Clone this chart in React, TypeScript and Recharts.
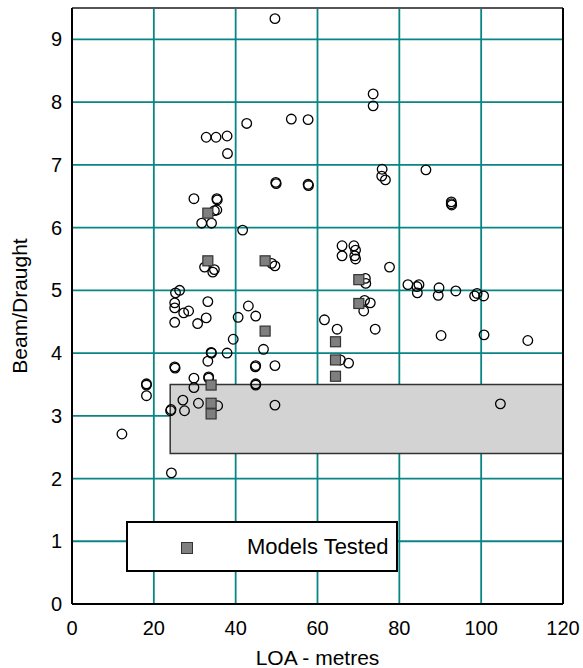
import React from "react";
import {
  CartesianGrid,
  Legend,
  ReferenceArea,
  ReferenceLine,
  Scatter,
  ScatterChart,
  XAxis,
  YAxis,
} from "recharts";

const FONT = '"Liberation Sans", Arial, Helvetica, sans-serif';
const GRID = "#0a8585";

// Hull survey: length overall (m) vs beam/draught ratio
const vesselLoa = [
  49.6, 42.7, 53.6, 57.7, 32.8, 35.2, 37.9, 38.0, 73.6, 73.6,
  49.8, 49.9, 57.7, 57.8, 75.8, 75.7, 76.6, 86.5, 92.7, 92.7,
  92.8, 29.8, 35.4, 35.5, 34.8, 35.4, 31.7, 34.1, 41.7, 32.4,
  34.4, 34.8, 48.8, 49.6, 25.3, 26.3, 25.1, 25.1, 27.3, 28.5,
  33.2, 25.1, 30.7, 32.8, 40.6, 43.1, 44.9, 39.4, 46.8, 34.0,
  34.1, 37.9, 33.2, 25.1, 25.2, 44.9, 44.8, 49.6, 29.8, 33.4,
  33.4, 44.9, 44.9, 29.8, 18.2, 18.2, 18.2, 27.1, 30.9, 27.5,
  24.1, 24.2, 35.6, 49.6, 12.2, 24.3, 104.7, 66.0, 66.0, 68.9,
  69.3, 69.1, 69.3, 77.6, 71.7, 71.8, 71.5, 72.9, 71.3, 82.1,
  84.3, 84.8, 84.4, 89.7, 89.5, 93.8, 98.4, 99.0, 100.6, 61.7,
  64.8, 74.1, 90.2, 100.7, 111.4, 65.6, 67.6,
];
const vesselRatio = [
  9.33, 7.66, 7.73, 7.72, 7.44, 7.44, 7.46, 7.18, 8.13, 7.94,
  6.72, 6.7, 6.69, 6.67, 6.93, 6.82, 6.76, 6.92, 6.41, 6.38,
  6.36, 6.46, 6.46, 6.44, 6.27, 6.28, 6.07, 6.07, 5.96, 5.37,
  5.29, 5.33, 5.43, 5.39, 4.96, 5.0, 4.8, 4.72, 4.64, 4.67,
  4.82, 4.49, 4.47, 4.56, 4.57, 4.75, 4.59, 4.22, 4.06, 4.01,
  4.0, 4.0, 3.87, 3.78, 3.76, 3.8, 3.78, 3.8, 3.6, 3.62,
  3.6, 3.49, 3.51, 3.45, 3.49, 3.51, 3.32, 3.25, 3.2, 3.08,
  3.08, 3.1, 3.16, 3.17, 2.71, 2.09, 3.19, 5.71, 5.55, 5.71,
  5.64, 5.55, 5.5, 5.37, 5.19, 5.11, 4.84, 4.8, 4.67, 5.09,
  5.06, 5.09, 4.96, 5.04, 4.92, 4.99, 4.91, 4.95, 4.91, 4.53,
  4.38, 4.38, 4.28, 4.29, 4.2, 3.89, 3.84,
];

// Tank-tested models
const modelLoa = [33.2, 33.2, 47.2, 47.2, 34.0, 34.0, 34.0, 70.1, 70.1, 64.4, 64.4, 64.4];
const modelRatio = [6.23, 5.47, 5.47, 4.35, 3.49, 3.2, 3.03, 5.17, 4.79, 4.18, 3.89, 3.63];

const xTicks = [0, 20, 40, 60, 80, 100, 120];
const yTicks = [0, 1, 2, 3, 4, 5, 6, 7, 8, 9];

const vessels = vesselLoa.map((x, i) => ({ x, y: vesselRatio[i] }));
const models = modelLoa.map((x, i) => ({ x, y: modelRatio[i] }));

const Ring = (props: any) => (
  <circle cx={props.cx} cy={props.cy} r={4.8} fill="none" stroke="#000" strokeWidth={1.3} />
);

const Block = (props: any) => (
  <rect
    x={props.cx - 5}
    y={props.cy - 5}
    width={10}
    height={10}
    fill="#7f7f7f"
    stroke="#333"
    strokeWidth={1.2}
  />
);

const LegendBox = () => (
  <div
    style={{
      boxSizing: "border-box",
      width: "100%",
      height: "100%",
      border: "2px solid #000",
      background: "#fff",
      position: "relative",
      fontFamily: FONT,
    }}
  >
    <div
      style={{
        position: "absolute",
        left: 53,
        top: 19,
        width: 10,
        height: 10,
        background: "#7f7f7f",
        border: "1px solid #333",
      }}
    />
    <span
      style={{
        position: "absolute",
        left: 119,
        top: 11,
        fontSize: 22,
        lineHeight: "25px",
        color: "#000",
        whiteSpace: "nowrap",
      }}
    >
      Models Tested
    </span>
  </div>
);

const YTitle = ({ viewBox }: any) => {
  const cy = viewBox.y + viewBox.height / 2;
  return (
    <text
      x={27}
      y={cy}
      transform={`rotate(-90 27 ${cy})`}
      textAnchor="middle"
      fontFamily={FONT}
      fontSize={21}
      fill="#000"
    >
      Beam/Draught
    </text>
  );
};

const XTitle = ({ viewBox }: any) => (
  <text
    x={viewBox.x + viewBox.width / 2}
    y={665}
    textAnchor="middle"
    fontFamily={FONT}
    fontSize={21}
    fill="#000"
  >
    LOA - metres
  </text>
);

export default function App() {
  return (
    <div style={{ position: "absolute", left: 0, top: 0, background: "#fff" }}>
      <ScatterChart
        width={583}
        height={668}
        margin={{ top: 8, right: 20, bottom: 0, left: 0 }}
      >
        <CartesianGrid stroke={GRID} strokeWidth={1.8} />
        <XAxis
          type="number"
          dataKey="x"
          domain={[0, 120]}
          ticks={xTicks}
          height={64}
          tickSize={0}
          tickMargin={17}
          axisLine={{ stroke: "#000", strokeWidth: 2 }}
          tick={{ fill: "#000", fontSize: 20, fontFamily: FONT }}
          label={<XTitle />}
        />
        <YAxis
          type="number"
          dataKey="y"
          domain={[0, 9.5]}
          ticks={yTicks}
          width={72}
          tickSize={0}
          tickMargin={10}
          axisLine={{ stroke: "#000", strokeWidth: 2 }}
          tick={{ fill: "#000", fontSize: 20, fontFamily: FONT }}
          label={<YTitle />}
        />
        <ReferenceArea
          x1={24}
          x2={120}
          y1={2.4}
          y2={3.5}
          fill="#d3d3d3"
          fillOpacity={1}
          stroke="#333"
          strokeWidth={1.5}
        />
        <ReferenceLine y={9.5} stroke="#555" strokeWidth={2} />
        <ReferenceLine x={120} stroke="#000" strokeWidth={2} />
        <Scatter
          name="Vessels"
          data={vessels}
          shape={Ring}
          isAnimationActive={false}
          legendType="none"
        />
        <Scatter
          name="Models Tested"
          data={models}
          shape={Block}
          isAnimationActive={false}
        />
        <Legend
          layout="horizontal"
          verticalAlign="middle"
          align="center"
          content={<LegendBox />}
          wrapperStyle={{ position: "absolute", left: 126, top: 521, width: 272, height: 51 }}
        />
      </ScatterChart>
    </div>
  );
}
